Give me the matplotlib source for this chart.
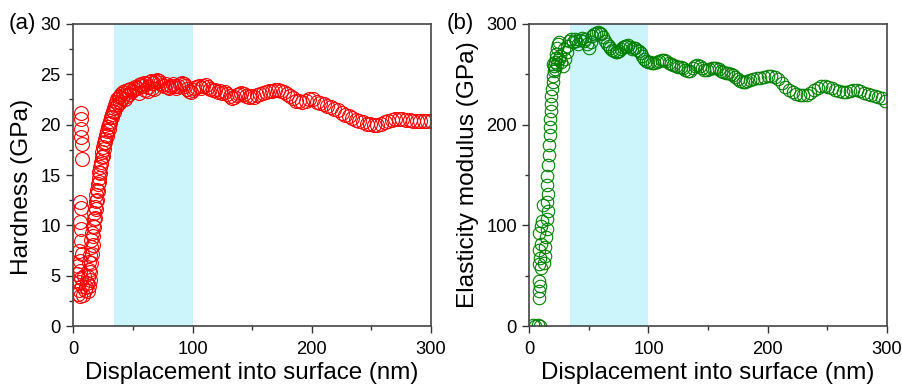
import numpy as np
import matplotlib.pyplot as plt
from matplotlib.ticker import MultipleLocator

plt.rcParams['font.family'] = ['Liberation Sans', 'DejaVu Sans']

# hardness vs displacement (nm, GPa)
hard_x = [6.5, 6.8, 6.2, 6.5, 6.9, 7.0, 5.8, 6.8, 6.0, 6.3, 6.6, 5.0, 7.5, 4.2, 6.0, 3.5, 5.5, 4.5, 6.5,
          4.0, 6.0, 8.0, 7.5, 9.0, 5.0,
          10.0, 10.8, 11.5, 12.2, 12.8, 13.4, 14.0, 14.6, 15.2, 15.8, 16.4, 17.0, 17.6, 18.2, 18.8, 19.4,
          20.0, 20.6, 21.2, 21.8, 22.4, 23.0, 23.7, 24.4, 25.1, 25.8, 26.6, 27.4, 28.2, 29.0, 29.8, 30.6,
          31.4, 32.3, 33.2, 34.1, 35.0, 36.0, 37.0, 38.0, 39.0, 40.2,
          12.5, 13.2, 13.8, 14.3, 14.9, 15.5, 16.1, 16.8, 17.5, 18.3, 19.1, 20.0, 20.8, 21.7, 22.6, 23.6,
          24.6, 25.7, 26.9, 28.2, 29.6, 31.0, 32.5, 34.0, 35.6, 37.3, 39.0, 41.0, 43.0, 45.0, 47.0,
          41.5, 43.0, 44.5, 46.0, 47.5, 49.0, 50.5, 52.0, 53.5, 55.0, 56.5, 58.0, 59.5, 61.0, 62.5, 64.0,
          65.5, 67.0, 68.5, 70.0, 71.5, 73.0, 74.5, 76.0, 77.5, 79.0, 80.5, 82.0, 83.5, 85.0, 86.5, 88.0,
          89.5, 91.0, 92.5, 94.0, 95.5, 97.0, 98.5, 100.0,
          55.0, 60.0, 63.0, 66.0, 68.0,
          101.5, 103.0, 105.0, 107.0, 109.0, 111.0, 113.0, 115.0, 117.0, 119.0, 121.0, 123.0, 125.0,
          127.0, 129.0, 131.0, 133.0, 135.0, 137.0, 139.0, 141.0, 143.0, 145.0, 147.0, 149.0, 151.5,
          154.0, 156.5, 159.0, 161.5, 164.0, 166.5, 169.0, 171.5, 174.0, 176.5, 179.0, 181.5, 184.0,
          186.5, 189.0, 192.0, 195.0, 198.0, 201.0, 204.0, 207.0, 210.0, 213.0, 216.0, 219.0, 222.0,
          225.0, 228.0, 231.0, 234.0, 237.0, 240.0, 243.0, 246.0, 249.0, 252.0, 255.0, 258.0, 261.0,
          264.0, 267.0, 270.0, 273.0, 276.0, 279.0, 282.0, 285.0, 288.0, 291.0, 294.0, 297.0, 300.0]
hard_y = [21.2, 20.6, 19.6, 18.8, 18.1, 16.6, 12.3, 11.7, 10.3, 9.6, 8.4, 7.5, 7.2, 6.0, 6.5, 5.2, 5.5, 4.4, 4.8,
          3.2, 3.0, 3.1, 4.0, 5.0, 3.6,
          3.6, 3.9, 4.3, 4.9, 5.6, 6.4, 7.1, 7.8, 8.5, 9.2, 9.9, 10.6, 11.2, 11.8, 12.4, 13.0,
          13.5, 14.1, 14.7, 15.3, 15.8, 16.3, 16.8, 17.3, 17.8, 18.2, 18.6, 19.0, 19.4, 19.8, 20.1, 20.4,
          20.8, 21.1, 21.4, 21.7, 22.0, 22.3, 22.5, 22.7, 22.8, 23.0,
          3.5, 4.0, 4.6, 5.4, 6.3, 7.2, 8.0, 8.9, 9.8, 10.7, 11.6, 12.5, 13.4, 14.3, 15.2, 16.1,
          16.9, 17.6, 18.3, 18.9, 19.6, 20.2, 20.8, 21.3, 21.8, 22.1, 22.3, 22.6, 22.5, 22.8, 23.0,
          23.2, 23.3, 23.1, 23.4, 23.5, 23.3, 23.5, 23.7, 23.6, 23.9, 24.0, 23.8, 24.1, 24.0, 23.7, 24.2,
          24.3, 24.1, 24.3, 24.4, 24.3, 24.1, 23.9, 23.8, 24.0, 23.7, 23.6, 23.8, 24.0, 23.8, 23.6, 23.8,
          24.0, 24.1, 24.0, 23.8, 23.5, 23.3, 23.2, 23.4,
          23.1, 23.4, 23.3, 23.6, 23.5,
          23.6, 23.7, 23.8, 23.6, 23.8, 23.9, 23.7, 23.5, 23.4, 23.4, 23.2, 23.3, 23.1,
          23.2, 23.0, 22.8, 22.6, 22.7, 22.9, 23.0, 23.1, 23.0, 22.8, 22.7, 22.8, 22.7,
          22.9, 23.0, 23.1, 23.2, 23.3, 23.3, 23.4, 23.4, 23.3, 23.2, 23.0, 22.8, 22.6,
          22.4, 22.4, 22.3, 22.4, 22.5, 22.5, 22.3, 22.2, 22.1, 21.9, 21.8, 21.6, 21.5,
          21.2, 21.0, 20.9, 20.7, 20.5, 20.4, 20.3, 20.1, 20.1, 20.0, 20.0, 20.1, 20.3,
          20.4, 20.5, 20.6, 20.6, 20.6, 20.5, 20.5, 20.4, 20.4, 20.4, 20.4, 20.4, 20.4]

# elasticity modulus vs displacement (nm, GPa)
mod_x = [3, 5, 7, 9,
         8.0, 8.5, 9.0, 8.5, 9.5, 8.0, 9.0, 8.5, 10.0, 8.0, 9.5, 10.5, 11.5, 12.5, 13.0, 13.5, 14.0,
         14.5, 15.0, 15.5, 15.0, 15.8, 14.5, 15.2, 16.0, 16.5, 16.2, 17.0, 17.2, 17.5, 17.8, 18.2, 18.5,
         19.0, 19.5, 20.0, 20.5, 21.0, 21.5, 22.0, 22.5, 23.0, 24.0, 25.0, 20.0, 21.5, 23.0, 24.5, 26.0,
         27.0, 28.5, 30.0, 31.5, 29.0, 32.0, 33.5, 35.0, 36.5, 38.0, 39.5, 41.0, 42.5, 44.0, 45.5, 47.0,
         48.5, 50.0, 51.5, 53.0, 54.5, 56.0, 57.5, 59.0, 60.5, 62.0, 63.5, 65.0, 66.5, 68.0, 69.5, 71.0,
         72.5, 74.0, 75.5, 77.0, 78.5, 80.0, 81.5, 83.0, 84.5, 86.0, 87.5, 89.0, 90.5, 92.0, 93.5, 95.0,
         96.5, 98.0, 99.5, 101, 103, 105, 107, 109, 111, 113, 115, 117, 119, 121, 123, 125, 127, 129,
         131, 133, 135, 137, 139, 141, 143, 145, 147, 149, 151, 153, 155, 157, 159, 161, 163, 165, 167,
         169, 171, 173, 175, 177, 179, 181, 183, 185, 188, 191, 194, 197, 200, 203, 206, 209, 212, 215,
         218, 221, 224, 227, 230, 233, 236, 239, 242, 245, 248, 251, 254, 257, 260, 263, 266, 269, 272,
         275, 278, 281, 284, 287, 290, 293, 296, 299]
mod_y = [1, 0, 1, 0,
         28, 35, 40, 45, 58, 62, 68, 76, 81, 92, 99, 104, 120, 63, 70, 78, 88,
         96, 106, 114, 123, 131, 140, 149, 160, 170, 180, 190, 198, 206, 214, 221, 228,
         235, 242, 248, 253, 258, 262, 266, 270, 276, 280, 282, 260, 255, 260, 265, 268,
         262, 258, 265, 272, 275, 278, 283, 285, 282, 285, 283, 280, 284, 286, 283, 285,
         280, 276, 282, 288, 290, 291, 292, 291, 290, 287, 283, 280, 278, 276, 274, 273,
         272, 272, 273, 275, 277, 278, 278, 279, 277, 275, 276, 276, 274, 273, 271, 268,
         265, 263, 262, 262, 261, 261, 262, 263, 264, 264, 263, 261, 260, 259, 258, 257, 257, 256,
         254, 253, 253, 256, 258, 259, 258, 256, 254, 254, 255, 256, 256, 256, 255, 253, 252, 251, 251,
         250, 249, 247, 245, 243, 242, 242, 243, 244, 245, 246, 246, 247, 248, 248, 247, 245, 241, 237,
         234, 232, 230, 229, 229, 229, 231, 234, 236, 238, 238, 237, 236, 234, 233, 232, 232, 233, 234,
         234, 233, 231, 230, 229, 228, 227, 226, 224]

shade = (34, 100)

fig = plt.figure(figsize=(9.03, 3.85), dpi=100)
ax1 = fig.add_axes([0.0812, 0.1532, 0.3961, 0.7845])
ax2 = fig.add_axes([0.5862, 0.1532, 0.3957, 0.7845])

panels = [(ax1, hard_x, hard_y, 'red', 10, 'Hardness (GPa)', 30, 5, 2.5),
          (ax2, mod_x, mod_y, 'green', 9, 'Elasticity modulus (GPa)', 300, 100, 50)]

for ax, xs, ys, col, ms, ylab, ymax, major, minor in panels:
    ax.axvspan(shade[0], shade[1], color='#ccf5fb', lw=0, zorder=0)
    ax.plot(xs, ys, 'o', mfc='none', mec=col, ms=ms, mew=0.8, zorder=2)
    ax.set_xlim(0, 300)
    ax.set_ylim(0, ymax)
    ax.xaxis.set_major_locator(MultipleLocator(100))
    ax.xaxis.set_minor_locator(MultipleLocator(50))
    ax.yaxis.set_major_locator(MultipleLocator(major))
    ax.yaxis.set_minor_locator(MultipleLocator(minor))
    ax.tick_params(which='major', direction='out', length=5, width=1, labelsize=13.2,
                   color='#333333', pad=4)
    ax.tick_params(axis='x', which='major', pad=5.5)
    ax.tick_params(which='minor', direction='out', length=3, width=1, color='#333333')
    for sp in ax.spines.values():
        sp.set_color('#444444')
        sp.set_linewidth(1.2)
    ax.set_xlabel('Displacement into surface (nm)', fontsize=17.4, labelpad=3)
    ax.set_ylabel(ylab, fontsize=17.6, labelpad=5)

# hardness label sits a bit lower than centre in the original
ax1.yaxis.set_label_coords(-0.113, 0.462)

fig.text(0.009, 0.938, '(a)', fontsize=16, va='center', ha='left')
fig.text(0.495, 0.938, '(b)', fontsize=16, va='center', ha='left')

plt.savefig('out.png', dpi=100)
